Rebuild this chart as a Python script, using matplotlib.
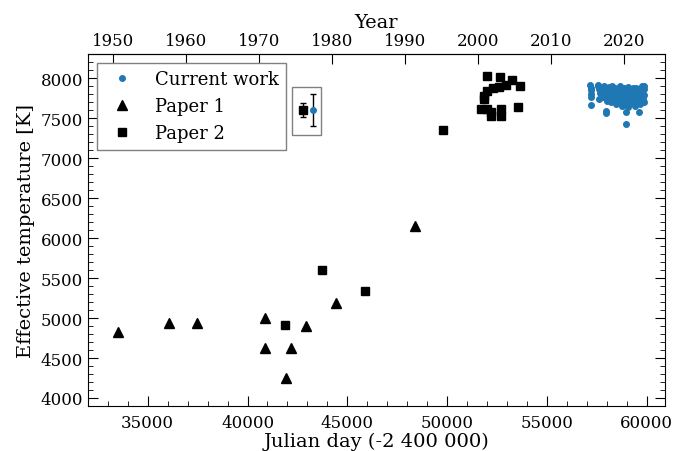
import numpy as np
import matplotlib.pyplot as plt
from matplotlib.patches import Rectangle

plt.rcParams['font.family'] = 'DejaVu Serif'
plt.rcParams['font.size'] = 12

# Paper 1 (triangles)
p1_jd = [33520, 36070, 37450, 40890, 40860, 41910, 42200, 42940, 44450, 48410]
p1_teff = [4820, 4940, 4940, 5000, 4630, 4250, 4630, 4900, 5190, 6150]

# Paper 2 (squares)
p2_jd = [41900, 43740, 45890, 49780,
         51985, 52640, 53240, 53650, 52940, 52590, 52290, 51985, 51830, 51830,
         51680, 51985, 52190, 52190, 52690, 52690, 53550]
p2_teff = [4912, 5600, 5334, 7350,
           8025, 8010, 7975, 7900, 7910, 7890, 7875, 7840, 7775, 7740,
           7610, 7610, 7575, 7525, 7610, 7525, 7640]

# current work (blue dots)
cw_jd = [57180, 57190, 57200, 57185, 57195, 57210,
         57550, 57600, 57650, 57700, 57750, 57800, 57850, 57900, 57950, 58000,
         57980, 58050, 58100, 58150, 58200, 58250, 58300, 58350, 58400, 58450,
         58500, 58550, 58600, 58650, 58700, 58750, 58800, 58850, 58900, 58950,
         59000, 59050, 59100, 59150, 59200, 59250, 59300, 59350, 59400, 59450,
         59500, 59550, 59600, 59650, 59700, 59750, 59800, 59850, 59880, 59870,
         57620, 57700, 58120, 58380, 58620, 58820, 59020, 59220, 59420, 59620,
         59820, 57580, 57880, 58280, 58680, 59080, 59480, 59880,
         57950, 57960, 58950, 58960, 59600]
cw_teff = [7910, 7880, 7850, 7800, 7760, 7660,
           7900, 7860, 7820, 7880, 7800, 7760, 7900, 7840, 7780, 7720,
           7870, 7820, 7890, 7760, 7700, 7850, 7800, 7730, 7880, 7680,
           7820, 7760, 7700, 7860, 7790, 7650, 7720, 7880, 7830, 7680,
           7760, 7640, 7850, 7720, 7800, 7690, 7880, 7760, 7650, 7820,
           7700, 7870, 7760, 7680, 7820, 7900, 7740, 7860, 7790, 7700,
           7740, 7840, 7830, 7790, 7750, 7800, 7700, 7860, 7750, 7840,
           7800, 7910, 7880, 7900, 7900, 7890, 7880, 7900,
           7590, 7560, 7580, 7430, 7580]

# typical uncertainties shown in the small box
err_p2 = 90
err_cw = 200

fig, ax = plt.subplots(figsize=(6.86, 4.52), dpi=100)
fig.subplots_adjust(left=0.128, right=0.969, bottom=0.0996, top=0.878)

ax.plot(cw_jd, cw_teff, '.', color='tab:blue', markersize=8, label='Current work')
ax.plot(p1_jd, p1_teff, '^', color='k', markersize=7, label='Paper 1')
ax.plot(p2_jd, p2_teff, 's', color='k', markersize=5.5, label='Paper 2')

# error bar box
ax.errorbar([42770], [7600], yerr=[err_p2], fmt='s', color='k', markersize=5.5,
            elinewidth=1, capsize=2)
ax.errorbar([43270], [7600], yerr=[err_cw], fmt='.', color='tab:blue', markersize=8,
            ecolor='k', elinewidth=1, capsize=2)
ax.add_patch(Rectangle((42230, 7290), 1460, 600, fill=False, edgecolor='grey', lw=1))

ax.set_xlim(32000, 60900)
ax.set_ylim(3900, 8300)
ax.set_xlabel('Julian day (-2 400 000)', fontsize=14, labelpad=0)
ax.set_ylabel('Effective temperature [K]', fontsize=14)

ax.xaxis.set_minor_locator(plt.MultipleLocator(1000))
ax.yaxis.set_minor_locator(plt.MultipleLocator(100))
ax.tick_params(which='both', direction='in', right=True)
ax.tick_params(which='major', length=7)
ax.tick_params(which='minor', length=3.5)
ax.tick_params(axis='x', pad=6)

leg = ax.legend(loc='upper left', fancybox=False, edgecolor='grey', framealpha=1,
                fontsize=13, borderpad=0.4)

# top axis in years
def jd_to_year(jd):
    return 2000 + (np.asarray(jd) - 51544.5) / 365.25

def year_to_jd(y):
    return 51544.5 + (np.asarray(y) - 2000) * 365.25

top = ax.secondary_xaxis('top', functions=(jd_to_year, year_to_jd))
top.set_xlabel('Year', fontsize=14)
top.set_xticks(np.arange(1950, 2030, 10))
top.tick_params(direction='in', length=7)

plt.savefig('out.png', dpi=100)
